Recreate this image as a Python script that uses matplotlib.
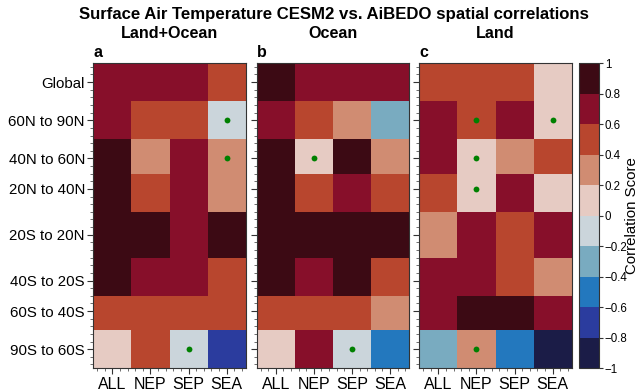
import numpy as np
import matplotlib
matplotlib.use("Agg")
import matplotlib.pyplot as plt
from matplotlib.colors import ListedColormap, BoundaryNorm
from matplotlib.ticker import MultipleLocator, FixedLocator

plt.rcParams['font.family'] = ['Liberation Sans', 'DejaVu Sans']

# regions (rows) are placed at a representative latitude, Global sits on top at 100
regions = ["Global", "60N to 90N", "40N to 60N", "20N to 40N",
           "20S to 20N", "40S to 20S", "60S to 40S", "90S to 60S"]
region_lat = [100, 75, 50, 30, 0, -30, -50, -75]
experiments = ["ALL", "NEP", "SEP", "SEA"]
panel_titles = ["Land+Ocean", "Ocean", "Land"]

# correlation scores, rows = regions, cols = experiments
corr_land_ocean = [
    [0.7, 0.7, 0.7, 0.5],
    [0.7, 0.5, 0.5, -0.1],
    [0.9, 0.3, 0.7, 0.3],
    [0.9, 0.5, 0.7, 0.3],
    [0.9, 0.9, 0.7, 0.9],
    [0.9, 0.7, 0.7, 0.5],
    [0.5, 0.5, 0.5, 0.5],
    [0.1, 0.5, -0.1, -0.7],
]
corr_ocean = [
    [0.9, 0.7, 0.7, 0.7],
    [0.7, 0.5, 0.3, -0.3],
    [0.9, 0.1, 0.9, 0.3],
    [0.9, 0.5, 0.7, 0.5],
    [0.9, 0.9, 0.9, 0.9],
    [0.9, 0.7, 0.9, 0.5],
    [0.5, 0.5, 0.5, 0.3],
    [0.1, 0.7, -0.1, -0.5],
]
corr_land = [
    [0.5, 0.5, 0.5, 0.1],
    [0.7, 0.5, 0.7, 0.1],
    [0.7, 0.1, 0.3, 0.5],
    [0.5, 0.1, 0.7, 0.1],
    [0.3, 0.7, 0.5, 0.7],
    [0.7, 0.7, 0.5, 0.3],
    [0.7, 0.9, 0.9, 0.7],
    [-0.3, 0.3, -0.5, -0.9],
]

# cells marked with a green dot
mark_land_ocean = [
    [0, 0, 0, 0], [0, 0, 0, 1], [0, 0, 0, 1], [0, 0, 0, 0],
    [0, 0, 0, 0], [0, 0, 0, 0], [0, 0, 0, 0], [0, 0, 1, 0],
]
mark_ocean = [
    [0, 0, 0, 0], [0, 0, 0, 0], [0, 1, 0, 0], [0, 0, 0, 0],
    [0, 0, 0, 0], [0, 0, 0, 0], [0, 0, 0, 0], [0, 0, 1, 0],
]
mark_land = [
    [0, 0, 0, 0], [0, 1, 0, 1], [0, 1, 0, 0], [0, 1, 0, 0],
    [0, 0, 0, 0], [0, 0, 0, 0], [0, 0, 0, 0], [0, 1, 0, 0],
]

cb_colors = ["#1b1c47", "#2b3c9e", "#2378be", "#79abc0", "#cbd5db",
             "#e6cbc3", "#d08c72", "#b8462e", "#870f2a", "#3c0a14"]
cmap = ListedColormap(cb_colors)
levels = np.linspace(-1, 1, 11)
norm = BoundaryNorm(levels, cmap.N)

W, H = 642, 391
fig = plt.figure(figsize=(W / 100, H / 100), dpi=100)

def px_axes(x0, x1, y0, y1):
    return fig.add_axes([x0 / W, 1 - y1 / H, (x1 - x0) / W, (y1 - y0) / H])

panel_x = [(93.3, 245.7), (256.7, 409.1), (419.3, 571.7)]
data = [corr_land_ocean, corr_ocean, corr_land]
marks = [mark_land_ocean, mark_ocean, mark_land]
xs = np.arange(len(experiments))
lat = np.array(region_lat)

for i, (x0, x1) in enumerate(panel_x):
    ax = px_axes(x0, x1, 63, 368.3)
    z = np.array(data[i])
    mesh = ax.pcolormesh(xs, lat, z, cmap=cmap, norm=norm, shading='nearest')
    m = np.array(marks[i]).astype(bool)
    yy, xx = np.nonzero(m)
    ax.plot(xs[xx], lat[yy], 'o', color='green', markersize=4.2, mec='none')
    ax.set_xlim(-0.5, 3.5)
    ax.set_ylim(-87.5, 112.5)
    ax.set_xticks(xs)
    ax.set_xticklabels(experiments, fontsize=11.5)
    ax.xaxis.set_minor_locator(MultipleLocator(0.2))
    ax.yaxis.set_major_locator(FixedLocator(lat))
    ax.yaxis.set_minor_locator(MultipleLocator(5))
    if i == 0:
        ax.set_yticklabels(regions, fontsize=10.8)
    else:
        ax.set_yticklabels([])
    ax.tick_params(which='major', length=4, width=0.8, color='#333333', pad=2)
    ax.tick_params(which='minor', length=2, width=0.6, color='#555555')
    for s in ax.spines.values():
        s.set_color('#333333')
        s.set_linewidth(0.8)
    ax.text(0, 1.01, "abc"[i], transform=ax.transAxes, ha='left', va='bottom',
            fontsize=11.5, fontweight='bold')
    fig.text((x0 + x1) / 2 / W, 1 - 33 / H, panel_titles[i], ha='center', va='center',
             fontsize=11.6, fontweight='bold')

fig.text(334 / W, 1 - 15 / H, "Surface Air Temperature CESM2 vs. AiBEDO spatial correlations",
         ha='center', va='center', fontsize=12.1, fontweight='bold')

cax = px_axes(579, 598.7, 63, 368.3)
cb = fig.colorbar(mesh, cax=cax, ticks=levels)
cb.ax.set_yticklabels(["\u22121" if v == -1 else "1" if v == 1 else
                       ("0" if abs(v) < 1e-9 else f"{v:.1f}".replace("-", "\u2212"))
                       for v in levels], fontsize=8.3)
cb.ax.tick_params(length=3, width=0.8, color='#333333', pad=1.5)
cb.outline.set_edgecolor('#333333')
cb.outline.set_linewidth(0.8)
cb.set_label("Correlation Score", fontsize=10.8)
cb.ax.yaxis.set_label_coords(2.36, 0.5)

fig.savefig("out.png", dpi=100)
